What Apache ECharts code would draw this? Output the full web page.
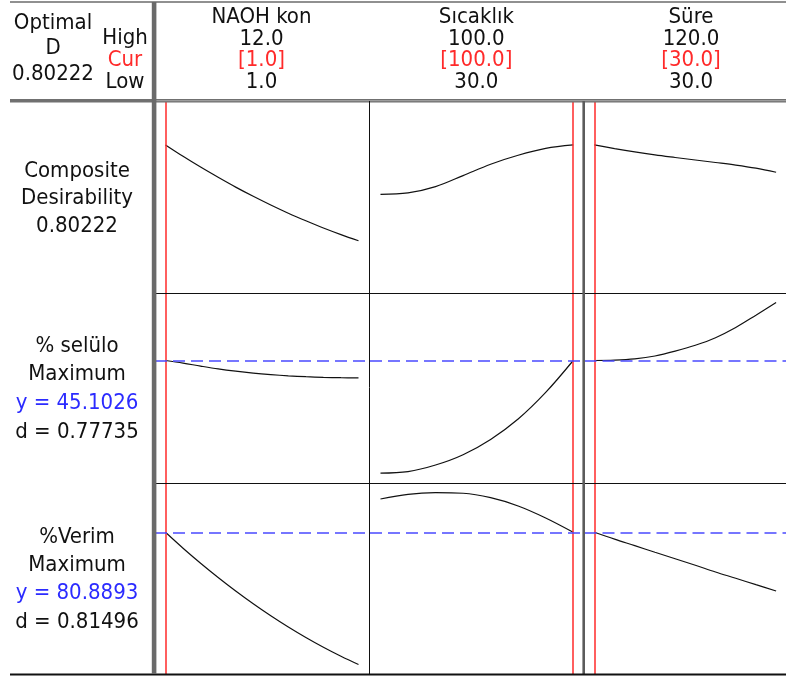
<!DOCTYPE html>
<html>
<head>
<meta charset="utf-8">
<script src="https://cdn.jsdelivr.net/npm/echarts@6/dist/echarts.min.js"></script>
<style>
  html, body { margin: 0; padding: 0; background: #fff; }
  #chart { width: 786px; height: 677px; }
</style>
</head>
<body>
<div id="chart"></div>
<script>
// Response optimizer: three factors, composite desirability and two responses

// Factor settings
const factorNames = ['NAOH kon', 'Sıcaklık', 'Süre'];
const factorHigh = [12.0, 100.0, 120.0];
const factorCur = [1.0, 100.0, 30.0];
const factorLow = [1.0, 30.0, 30.0];

// Grid of factor levels used for each curve
const naohX = [1, 2, 3, 4, 5, 6, 7, 8, 9, 10, 11, 12];
const sicaklikX = [30, 40, 50, 60, 70, 80, 90, 100];
const sureX = [30, 40, 50, 60, 70, 80, 90, 100, 110, 120];

// Composite desirability
const compositeD = 0.80222;
const compositeNaoh = [0.8022, 0.7405, 0.6820, 0.6267, 0.5736, 0.5238, 0.4767, 0.4323, 0.3911, 0.3521, 0.3163, 0.2833];
const compositeSicaklik = [0.5346, 0.5420, 0.5760, 0.6360, 0.6977, 0.7460, 0.7833, 0.8022];
const compositeSure = [0.8022, 0.7822, 0.7640, 0.7480, 0.7340, 0.7205, 0.7070, 0.6930, 0.6760, 0.6540];

// % selülo (maximize)
const seluloY = 45.1026;
const seluloD = 0.77735;
const seluloNaoh = [45.10, 44.58, 43.98, 43.42, 42.96, 42.58, 42.28, 42.04, 41.86, 41.74, 41.66, 41.62];
const seluloSicaklik = [22.58, 22.88, 24.20, 26.26, 29.32, 33.40, 38.72, 45.10];
const seluloSure = [45.10, 45.18, 45.44, 46.00, 46.96, 48.14, 49.66, 51.70, 54.16, 56.70];

// %Verim (maximize)
const verimY = 80.8893;
const verimD = 0.81496;
const verimNaoh = [80.89, 75.59, 70.59, 65.84, 61.34, 57.09, 53.09, 49.34, 45.84, 42.59, 39.59, 36.84];
const verimSicaklik = [91.98, 93.54, 94.08, 93.88, 92.41, 89.65, 85.65, 80.89];
const verimSure = [80.89, 78.59, 76.43, 74.23, 72.07, 69.90, 67.67, 65.57, 63.44, 61.34];

const FONT = '"DejaVu Sans Condensed", "DejaVu Sans", sans-serif';
const FONT_SIZE = 22;
const BLACK = '#111';
const RED = '#ff2a2a';
const BLUE = '#2b2bff';

const chart = echarts.init(document.getElementById('chart'), null, { renderer: 'canvas' });

// panel layout
const cols = [
  { left: 155, width: 214 },
  { left: 370, width: 213.7 },
  { left: 584.5, width: 214 }
];
const rows = [
  { top: 101, height: 192 },
  { top: 293, height: 190 },
  { top: 483, height: 191 }
];
const xPadFrac = 0.0544;
const xRanges = factorLow.map((lo, i) => {
  const hi = factorHigh[i] > lo ? factorHigh[i] : lo + 1;
  const pad = (hi - lo) * xPadFrac;
  return [lo - pad, hi + pad];
});
const yRanges = [[0, 1.04], [20.6, 58.6], [33.7, 97.3]];
const xs = [naohX, sicaklikX, sureX];
const curves = [
  [compositeNaoh, compositeSicaklik, compositeSure],
  [seluloNaoh, seluloSicaklik, seluloSure],
  [verimNaoh, verimSicaklik, verimSure]
];
const targetY = [null, seluloY, verimY];

const grid = [], xAxis = [], yAxis = [], series = [];
let idx = 0;
rows.forEach((r, ri) => {
  cols.forEach((c, ci) => {
    grid.push({ left: c.left, top: r.top, width: c.width, height: r.height, containLabel: false });
    xAxis.push({ type: 'value', gridIndex: idx, min: xRanges[ci][0], max: xRanges[ci][1], show: false });
    yAxis.push({ type: 'value', gridIndex: idx, min: yRanges[ri][0], max: yRanges[ri][1], show: false });
    const markData = [{ xAxis: factorCur[ci], lineStyle: { color: RED, width: 1.5, type: 'solid' } }];
    if (targetY[ri] !== null) {
      markData.push({ yAxis: targetY[ri], lineStyle: { color: '#4a4aff', width: 1.6, type: [12, 6] } });
    }
    series.push({
      type: 'line',
      xAxisIndex: idx,
      yAxisIndex: idx,
      data: xs[ci].map((x, k) => [x, curves[ri][ci][k]]),
      smooth: 0.35,
      symbol: 'none',
      lineStyle: { color: BLACK, width: 1.2 },
      silent: true,
      animation: false,
      markLine: {
        silent: true,
        symbol: 'none',
        label: { show: false },
        animation: false,
        data: markData
      }
    });
    idx++;
  });
});

function txt(x, y, s, color) {
  return {
    type: 'text', x: x, y: y, z: 20,
    style: { text: s, fill: color || BLACK, font: FONT_SIZE + 'px ' + FONT, align: 'center', verticalAlign: 'middle' }
  };
}
function hline(x1, x2, y, color, w) {
  return { type: 'line', z: 15, shape: { x1: x1, y1: y, x2: x2, y2: y }, style: { stroke: color, lineWidth: w } };
}
function vline(x, y1, y2, color, w) {
  return { type: 'line', z: 15, shape: { x1: x, y1: y1, x2: x, y2: y2 }, style: { stroke: color, lineWidth: w } };
}

const colCenters = cols.map(c => c.left + c.width / 2 - 0.5);
const graphics = [];

// header: optimal D and level captions
graphics.push(txt(53, 23, 'Optimal'));
graphics.push(txt(53, 48, 'D'));
graphics.push(txt(53, 74, compositeD.toFixed(5)));
graphics.push(txt(125, 38, 'High'));
graphics.push(txt(125, 60, 'Cur', RED));
graphics.push(txt(125, 82, 'Low'));
factorNames.forEach((name, i) => {
  graphics.push(txt(colCenters[i], 17, name));
  graphics.push(txt(colCenters[i], 39, factorHigh[i].toFixed(1)));
  graphics.push(txt(colCenters[i], 60, '[' + factorCur[i].toFixed(1) + ']', RED));
  graphics.push(txt(colCenters[i], 82, factorLow[i].toFixed(1)));
});

// row captions
graphics.push(txt(77, 171, 'Composite'));
graphics.push(txt(77, 198, 'Desirability'));
graphics.push(txt(77, 226, compositeD.toFixed(5)));
graphics.push(txt(77, 346, '% selülo'));
graphics.push(txt(77, 374, 'Maximum'));
graphics.push(txt(77, 403, 'y = ' + seluloY.toFixed(4), BLUE));
graphics.push(txt(77, 432, 'd = ' + seluloD.toFixed(5)));
graphics.push(txt(77, 537, '%Verim'));
graphics.push(txt(77, 565, 'Maximum'));
graphics.push(txt(77, 593, 'y = ' + verimY.toFixed(4), BLUE));
graphics.push(txt(77, 622, 'd = ' + verimD.toFixed(5)));

// frame lines
graphics.push(hline(10, 786, 2, '#222', 1.2));
graphics.push({ type: 'rect', z: 14, shape: { x: 10, y: 99, width: 776, height: 3.5 }, style: { fill: '#707070' } });
graphics.push(hline(156, 786, 100.7, '#a8a8a8', 1));
graphics.push({ type: 'rect', z: 16, shape: { x: 151.8, y: 2, width: 4.6, height: 672 }, style: { fill: '#6a6a6a' } });
graphics.push(vline(154.1, 2, 674, '#c4c4c4', 1));
graphics.push(hline(156, 786, 293.5, BLACK, 1));
graphics.push(hline(156, 786, 483.5, BLACK, 1));
graphics.push(vline(369.5, 101, 674, BLACK, 1));
graphics.push(vline(583.7, 101, 674, '#5c5c5c', 2.6));
graphics.push(hline(10, 786, 674.5, BLACK, 2.2));

chart.setOption({
  animation: false,
  backgroundColor: '#fff',
  grid: grid,
  xAxis: xAxis,
  yAxis: yAxis,
  series: series,
  graphic: graphics
});
</script>
</body>
</html>
